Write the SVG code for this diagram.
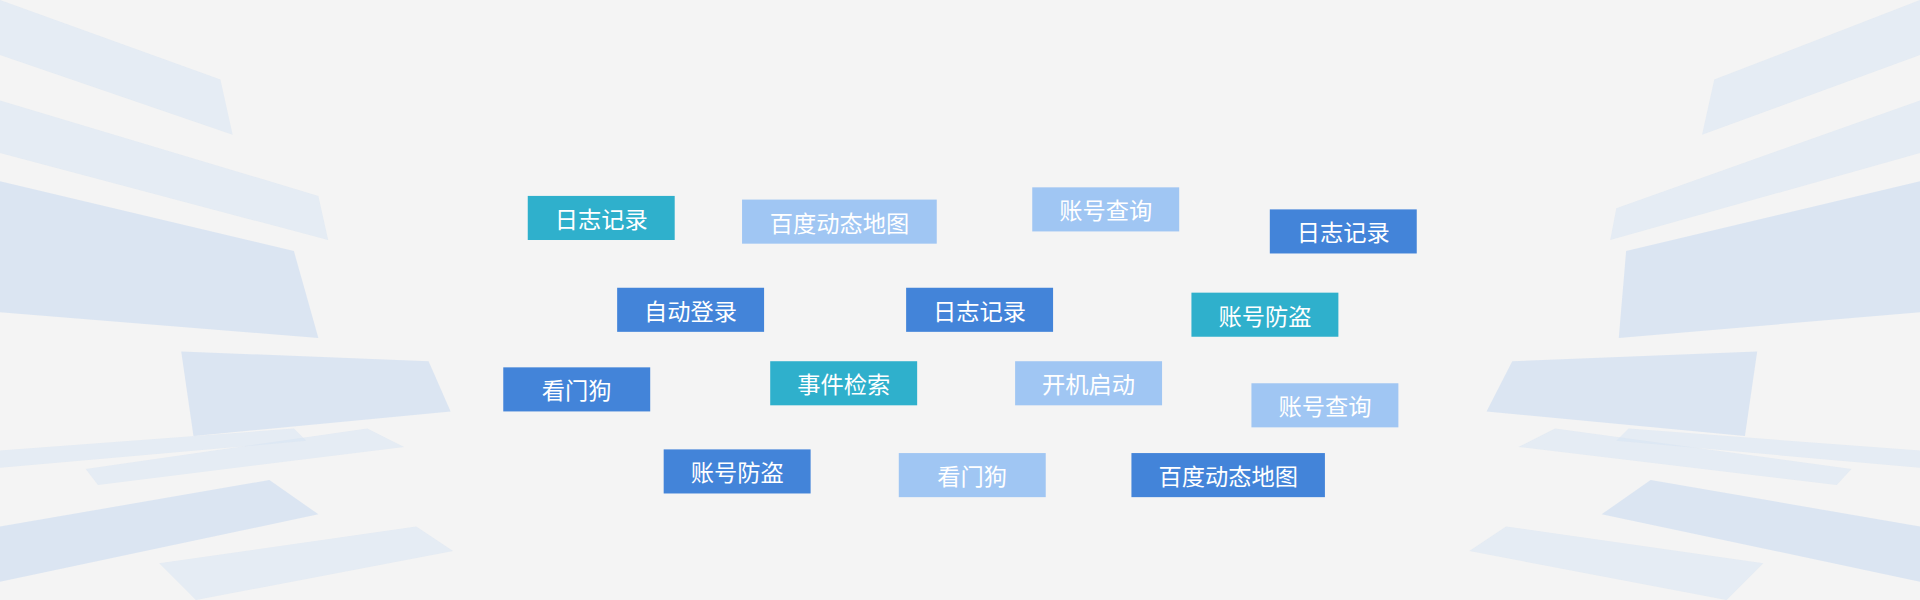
<svg xmlns="http://www.w3.org/2000/svg" width="1920" height="600" viewBox="0 0 1920 600">
<style>
.t{fill:#2fb0cc}.b{fill:#4384d9}.l{fill:#a0c6f3}
text{font-family:"Noto Sans CJK SC","Noto Sans",sans-serif;font-size:19px;fill:#fff;text-anchor:middle;dominant-baseline:central}
.bg{fill:#c6d9f0;opacity:.55}.bg2{fill:#d6e3f3;opacity:.5}
</style>
<rect width="1920" height="600" fill="#f4f4f4"/>
<g transform="scale(1.2245)">
<g id="background">
<polygon class="bg" points="0,148 240,205 260,276 0,255"/>
<polygon class="bg2" points="0,82 260,160 268,196 0,125"/>
<polygon class="bg2" points="0,0 180,65 190,110 0,45"/>
<polygon class="bg" points="148,287 350,295 368,336 158,356"/>
<polygon class="bg" points="0,430 220,392 260,420 0,475"/>
<polygon class="bg2" points="70,383 300,350 330,365 80,396"/>
<polygon class="bg2" points="0,368 240,350 250,360 0,382"/>
<polygon class="bg2" points="130,460 340,430 370,450 160,490"/>
<polygon class="bg" points="1568,148 1328,205 1322,276 1568,255"/>
<polygon class="bg2" points="1568,82 1320,170 1315,196 1568,125"/>
<polygon class="bg2" points="1568,0 1400,65 1390,110 1568,45"/>
<polygon class="bg" points="1435,287 1235,295 1214,336 1425,356"/>
<polygon class="bg" points="1568,430 1348,392 1308,420 1568,475"/>
<polygon class="bg2" points="1512,383 1270,350 1240,365 1500,396"/>
<polygon class="bg2" points="1568,368 1330,350 1320,360 1568,382"/>
<polygon class="bg2" points="1440,460 1230,430 1200,450 1410,490"/>
</g>
<g id="n1"><rect class="t" x="431" y="160" width="120" height="36"/><text x="491" y="178">日志记录</text></g>
<g id="n2"><rect class="l" x="606" y="163" width="159" height="36"/><text x="685.5" y="181">百度动态地图</text></g>
<g id="n3"><rect class="l" x="843" y="153" width="120" height="36"/><text x="903" y="171">账号查询</text></g>
<g id="n4"><rect class="b" x="1037" y="171" width="120" height="36"/><text x="1097" y="189">日志记录</text></g>
<g id="n5"><rect class="b" x="504" y="235" width="120" height="36"/><text x="564" y="253">自动登录</text></g>
<g id="n6"><rect class="b" x="740" y="235" width="120" height="36"/><text x="800" y="253">日志记录</text></g>
<g id="n7"><rect class="t" x="973" y="239" width="120" height="36"/><text x="1033" y="257">账号防盗</text></g>
<g id="n8"><rect class="b" x="411" y="300" width="120" height="36"/><text x="471" y="318">看门狗</text></g>
<g id="n9"><rect class="t" x="629" y="295" width="120" height="36"/><text x="689" y="313">事件检索</text></g>
<g id="n10"><rect class="l" x="829" y="295" width="120" height="36"/><text x="889" y="313">开机启动</text></g>
<g id="n11"><rect class="l" x="1022" y="313" width="120" height="36"/><text x="1082" y="331">账号查询</text></g>
<g id="n12"><rect class="b" x="542" y="367" width="120" height="36"/><text x="602" y="385">账号防盗</text></g>
<g id="n13"><rect class="l" x="734" y="370" width="120" height="36"/><text x="794" y="388">看门狗</text></g>
<g id="n14"><rect class="b" x="924" y="370" width="158" height="36"/><text x="1003" y="388">百度动态地图</text></g>
<g id="connectors"/>
</g>
</svg>
